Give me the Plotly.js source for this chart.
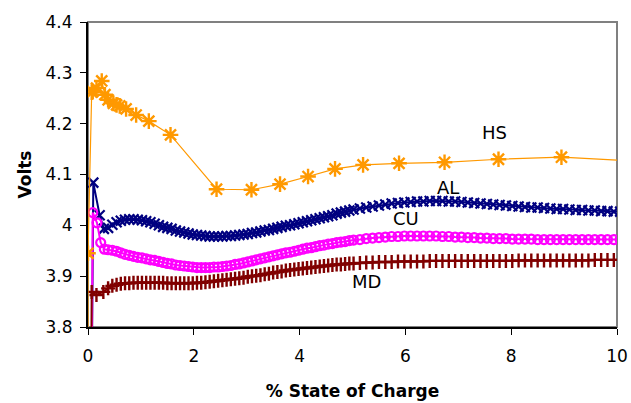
<!DOCTYPE html>
<html>
<head>
<meta charset="utf-8">
<script src="https://cdn.plot.ly/plotly-3.0.1.min.js"></script>
<style>html,body{margin:0;padding:0;background:#fff;}#chart{width:631px;height:403px;}</style>
</head>
<body>
<div id="chart"></div>
<script>
// Shared dense SOC grid (% state of charge) for AL, CU, MD after the initial transient
const socBand = [
  0.38,0.46,0.54,0.62,0.70,0.78,0.86,0.94,1.02,1.10,
  1.18,1.26,1.34,1.42,1.50,1.58,1.66,1.74,1.82,1.90,
  1.98,2.06,2.14,2.22,2.30,2.38,2.46,2.54,2.62,2.70,
  2.78,2.86,2.94,3.02,3.10,3.18,3.26,3.34,3.42,3.50,
  3.58,3.66,3.74,3.82,3.90,3.98,4.06,4.14,4.22,4.30,
  4.38,4.46,4.54,4.62,4.70,4.78,4.86,4.94,5.02,5.14,
  5.26,5.38,5.50,5.62,5.74,5.86,5.98,6.10,6.22,6.34,
  6.46,6.58,6.70,6.82,6.94,7.06,7.18,7.30,7.42,7.54,
  7.66,7.78,7.90,8.02,8.14,8.26,8.38,8.50,8.62,8.74,
  8.86,8.98,9.10,9.22,9.34,9.46,9.58,9.70,9.82,9.94,
  10.06
];

// AL
const alStartX = [0.06, 0.10, 0.22, 0.30];
const alStartY = [3.55, 4.084, 4.020, 3.993];
const alBandY = [
  3.995,4.001,4.006,4.009,4.011,4.012,4.012,4.011,4.010,4.008,
  4.006,4.003,4.000,3.997,3.995,3.993,3.990,3.988,3.986,3.984,
  3.982,3.981,3.980,3.979,3.978,3.978,3.978,3.978,3.979,3.979,
  3.980,3.981,3.982,3.983,3.985,3.986,3.988,3.990,3.991,3.993,
  3.995,3.997,3.999,4.000,4.002,4.004,4.006,4.008,4.010,4.012,
  4.014,4.016,4.018,4.020,4.023,4.025,4.027,4.029,4.031,4.033,
  4.035,4.037,4.039,4.041,4.043,4.044,4.045,4.046,4.047,4.047,
  4.048,4.048,4.048,4.047,4.047,4.046,4.045,4.044,4.043,4.042,
  4.041,4.040,4.039,4.038,4.037,4.036,4.035,4.035,4.034,4.033,
  4.032,4.032,4.031,4.030,4.030,4.029,4.029,4.028,4.028,4.027,
  4.027
];

// CU
const cuStartX = [0.06, 0.09, 0.17, 0.24, 0.31];
const cuStartY = [3.55, 4.025, 4.005, 3.966, 3.953];
const cuBandY = [
  3.952,3.951,3.949,3.946,3.943,3.941,3.939,3.937,3.936,3.934,
  3.932,3.931,3.929,3.927,3.925,3.924,3.922,3.921,3.920,3.919,
  3.918,3.917,3.917,3.917,3.917,3.918,3.918,3.919,3.920,3.921,
  3.923,3.924,3.926,3.928,3.930,3.932,3.934,3.936,3.938,3.940,
  3.942,3.944,3.946,3.947,3.949,3.951,3.953,3.955,3.956,3.958,
  3.960,3.961,3.963,3.964,3.966,3.967,3.968,3.970,3.971,3.972,
  3.974,3.975,3.976,3.977,3.978,3.978,3.979,3.979,3.979,3.979,
  3.979,3.979,3.978,3.978,3.977,3.977,3.976,3.976,3.975,3.975,
  3.974,3.974,3.974,3.973,3.973,3.973,3.973,3.972,3.972,3.972,
  3.972,3.972,3.972,3.972,3.972,3.972,3.972,3.972,3.972,3.972,
  3.972
];

// MD
const mdStartX = [0.05, 0.07, 0.16, 0.29];
const mdStartY = [3.55, 3.869, 3.863, 3.869];
const mdBandY = [
  3.876,3.881,3.883,3.885,3.886,3.886,3.887,3.887,3.887,3.887,
  3.887,3.887,3.887,3.887,3.886,3.886,3.886,3.886,3.886,3.886,
  3.886,3.887,3.887,3.888,3.889,3.890,3.891,3.892,3.893,3.894,
  3.895,3.896,3.897,3.899,3.900,3.901,3.902,3.904,3.905,3.907,
  3.908,3.909,3.911,3.912,3.913,3.914,3.915,3.916,3.917,3.918,
  3.919,3.920,3.921,3.922,3.923,3.923,3.924,3.925,3.925,3.926,
  3.927,3.927,3.928,3.928,3.928,3.929,3.929,3.929,3.929,3.929,
  3.930,3.930,3.930,3.930,3.930,3.930,3.930,3.930,3.930,3.930,
  3.930,3.930,3.930,3.930,3.931,3.931,3.931,3.931,3.931,3.931,
  3.931,3.931,3.931,3.931,3.931,3.931,3.932,3.932,3.932,3.932,
  3.932
];

// HS (sparse)
const hsX = [0.00, 0.00, 0.07, 0.09, 0.16, 0.26, 0.32, 0.38, 0.48, 0.54, 0.60, 0.72, 0.91, 1.15, 1.56, 2.43, 3.09, 3.63, 4.16, 4.67, 5.20, 5.88, 6.74, 7.76, 8.95, 10.20];
const hsY = [3.50, 3.945, 4.262, 4.263, 4.270, 4.284, 4.257, 4.247, 4.240, 4.237, 4.235, 4.229, 4.217, 4.205, 4.178, 4.071, 4.070, 4.081, 4.096, 4.111, 4.119, 4.122, 4.124, 4.130, 4.134, 4.127];

const seriesNames = ["AL", "CU", "MD", "HS"];
const labelX = [6.81, 6.02, 5.27, 7.69];
const labelY = [4.075, 4.014, 3.889, 4.182];
const xTicks = [0, 2, 4, 6, 8, 10];
const yTicks = [3.8, 3.9, 4.0, 4.1, 4.2, 4.3, 4.4];

const colors = {AL: "#000080", CU: "#FF00FF", MD: "#800000", HS: "#FF9900"};

const traces = [
  {x: alStartX.concat(socBand), y: alStartY.concat(alBandY), name: "AL", mode: "lines+markers",
   line: {color: colors.AL, width: 2}, marker: {symbol: "x-thin-open", size: 10, color: colors.AL, line: {color: colors.AL, width: 2.2}}},
  {x: cuStartX.concat(socBand), y: cuStartY.concat(cuBandY), name: "CU", mode: "lines+markers",
   line: {color: colors.CU, width: 2}, marker: {symbol: "circle-open", size: 9, color: colors.CU, line: {color: colors.CU, width: 2.2}}},
  {x: mdStartX.concat(socBand), y: mdStartY.concat(mdBandY), name: "MD", mode: "lines+markers",
   line: {color: colors.MD, width: 2}, marker: {symbol: "cross-thin-open", size: 10, color: colors.MD, line: {color: colors.MD, width: 2.4}}},
  {x: hsX, y: hsY, name: "HS", mode: "lines+markers",
   line: {color: colors.HS, width: 1.2}, marker: {symbol: "asterisk-open", size: 13, color: colors.HS, line: {color: colors.HS, width: 2.4}}}
];

const font = "DejaVu Sans, Arial, sans-serif";
const layout = {
  width: 631, height: 403,
  margin: {l: 88, r: 14, t: 22, b: 76},
  paper_bgcolor: "#ffffff", plot_bgcolor: "#ffffff",
  showlegend: false,
  font: {family: font, size: 17, color: "#000"},
  xaxis: {
    range: [0, 10], tickvals: xTicks, ticktext: xTicks.map(String),
    ticks: "outside", ticklen: 6, tickwidth: 1, tickcolor: "#000",
    showline: true, linecolor: "#000", linewidth: 2, showgrid: false, zeroline: false,
    tickfont: {family: font, size: 17}, ticklabelstandoff: 7,
    title: {text: "% State of Charge", font: {family: font, size: 17, weight: "bold"}, standoff: 20}
  },
  yaxis: {
    range: [3.8, 4.4], tickvals: yTicks, ticktext: yTicks.map(v => String(+v.toFixed(1))),
    ticks: "outside", ticklen: 6, tickwidth: 1, tickcolor: "#000",
    showline: true, linecolor: "#000", linewidth: 2, showgrid: false, zeroline: false,
    tickfont: {family: font, size: 17}, ticklabelstandoff: 4,
    title: {text: "Volts", font: {family: font, size: 17, weight: "bold"}, standoff: 10}
  },
  shapes: [{type: "rect", xref: "paper", yref: "paper", x0: 0, x1: 1, y0: 0, y1: 1,
            line: {color: "#808080", width: 2}, layer: "below"}],
  annotations: seriesNames.map((n, i) => ({
    x: labelX[i], y: labelY[i], text: n, showarrow: false,
    font: {family: font, size: 18, color: "#000"}
  }))
};

Plotly.newPlot("chart", traces, layout, {displayModeBar: false, staticPlot: true});
</script>
</body>
</html>
